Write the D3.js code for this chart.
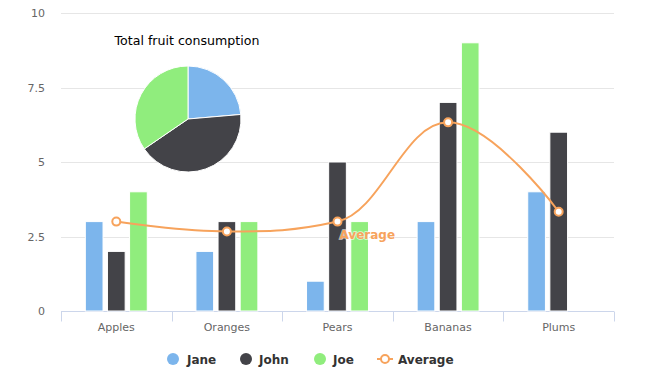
<!doctype html>
<html>
<head>
<meta charset="utf-8">
<script src="https://cdn.jsdelivr.net/npm/d3@7"></script>
<style>
  body { margin: 0; background: #fff; }
  text { font-family: "DejaVu Sans", sans-serif; }
</style>
</head>
<body>
<div id="chart"></div>
<script>
var categories = ["Apples", "Oranges", "Pears", "Bananas", "Plums"];
var seriesNames = ["Jane", "John", "Joe"];
var jane = [3, 2, 1, 3, 4];
var john = [2, 3, 5, 7, 6];
var joe = [4, 3, 3, 9, 0];
var average = [3, 2.67, 3, 6.33, 3.33];
var pieTotals = [13, 23, 19];
var yTicks = [0, 2.5, 5, 7.5, 10];
var colors = ["#7cb5ec", "#434348", "#90ed7d"];
var avgColor = "#f7a35c";

var w = 661, h = 380;
var plotLeft = 61, plotRight = 614, plotTop = 13, plotBottom = 311;

var svg = d3.select("#chart").append("svg")
    .attr("width", w)
    .attr("height", h);

var x0 = d3.scaleBand().domain(categories).range([plotLeft, plotRight]).padding(0);
var bw = x0.bandwidth();
var x1 = d3.scaleBand().domain(seriesNames).range([bw * 0.2, bw * 0.8]).padding(0);
var y = d3.scaleLinear().domain([0, 10]).range([plotBottom, plotTop]);

// grid lines
svg.append("g").selectAll("line")
    .data(yTicks.filter(function (d) { return d > 0; }))
    .enter().append("line")
    .attr("x1", plotLeft).attr("x2", plotRight)
    .attr("y1", function (d) { return Math.round(y(d)) + 0.5; })
    .attr("y2", function (d) { return Math.round(y(d)) + 0.5; })
    .attr("stroke", "#e6e6e6");

// y labels
svg.append("g").selectAll("text")
    .data(yTicks)
    .enter().append("text")
    .attr("x", 45)
    .attr("y", function (d) { return y(d) + 4; })
    .attr("text-anchor", "end")
    .style("font-size", "11px")
    .attr("fill", "#666")
    .text(function (d) { return d; });

// x axis
var xAxis = svg.append("g").attr("transform", "translate(0," + (plotBottom + 0.5) + ")");
xAxis.append("line").attr("x1", plotLeft).attr("x2", plotRight).attr("stroke", "#ccd6eb");
var boundaries = categories.map(function (c) { return x0(c); }).concat([plotRight]);
xAxis.selectAll("line.tick").data(boundaries).enter().append("line")
    .attr("class", "tick")
    .attr("x1", function (d) { return Math.round(d) + 0.5; })
    .attr("x2", function (d) { return Math.round(d) + 0.5; })
    .attr("y1", 0).attr("y2", 10)
    .attr("stroke", "#ccd6eb");
xAxis.selectAll("text").data(categories).enter().append("text")
    .attr("x", function (d) { return x0(d) + bw / 2; })
    .attr("y", 19)
    .attr("text-anchor", "middle")
    .style("font-size", "11px")
    .attr("fill", "#666")
    .text(function (d) { return d; });

// columns
var seriesData = [jane, john, joe];
seriesData.forEach(function (vals, si) {
    var pw = x1.bandwidth();
    svg.append("g").selectAll("rect")
        .data(vals)
        .enter().append("rect")
        .attr("x", function (d, i) { return x0(categories[i]) + x1(seriesNames[si]) + pw * 0.1; })
        .attr("y", function (d) { return y(d); })
        .attr("width", pw * 0.8)
        .attr("height", function (d) { return y(0) - y(d); })
        .attr("fill", colors[si])
        .attr("stroke", function (d) { return d > 0 ? "#fff" : "none"; })
        .attr("stroke-width", 1);
});

// spline (highcharts-style smoothing)
var pts = average.map(function (d, i) { return [x0(categories[i]) + bw / 2, y(d)]; });
function splinePath(p) {
    var s = 1.5, den = 2.5, path = "M" + p[0][0] + "," + p[0][1];
    var rc = [];
    for (var i = 0; i < p.length; i++) {
        var lc = null;
        if (i > 0 && i < p.length - 1) {
            var px = p[i][0], py = p[i][1];
            var lx = p[i - 1][0], ly = p[i - 1][1], nx = p[i + 1][0], ny = p[i + 1][1];
            var lcx = (s * px + lx) / den, lcy = (s * py + ly) / den;
            var rcx = (s * px + nx) / den, rcy = (s * py + ny) / den;
            var corr = ((rcy - lcy) * (rcx - px)) / (rcx - lcx) + py - rcy;
            lcy += corr; rcy += corr;
            if (lcy > ly && lcy > py) { lcy = Math.max(ly, py); rcy = 2 * py - lcy; }
            else if (lcy < ly && lcy < py) { lcy = Math.min(ly, py); rcy = 2 * py - lcy; }
            if (rcy > ny && rcy > py) { rcy = Math.max(ny, py); lcy = 2 * py - rcy; }
            else if (rcy < ny && rcy < py) { rcy = Math.min(ny, py); lcy = 2 * py - rcy; }
            lc = [lcx, lcy];
            rc[i] = [rcx, rcy];
        }
        if (i > 0) {
            var a = rc[i - 1] || p[i - 1];
            var b = lc || p[i];
            path += "C" + a[0] + "," + a[1] + " " + b[0] + "," + b[1] + " " + p[i][0] + "," + p[i][1];
        }
    }
    return path;
}
svg.append("path")
    .attr("d", splinePath(pts))
    .attr("fill", "none")
    .attr("stroke", avgColor)
    .attr("stroke-width", 2);
svg.append("g").selectAll("circle")
    .data(pts)
    .enter().append("circle")
    .attr("cx", function (d) { return d[0]; })
    .attr("cy", function (d) { return d[1]; })
    .attr("r", 4)
    .attr("fill", "#fff")
    .attr("stroke", avgColor)
    .attr("stroke-width", 2);

// series label
svg.append("text")
    .attr("x", pts[2][0] + 2)
    .attr("y", pts[2][1] + 17)
    .style("font-size", "12px")
    .style("font-weight", "bold")
    .attr("fill", avgColor)
    .attr("stroke", "#fff")
    .attr("stroke-width", 1.5)
    .attr("stroke-opacity", 0.7)
    .attr("paint-order", "stroke")
    .text("Average");

// pie
var pie = d3.pie().sort(null)(pieTotals);
var arc = d3.arc().innerRadius(0).outerRadius(53);
var pg = svg.append("g").attr("transform", "translate(188,119)");
pg.selectAll("path").data(pie).enter().append("path")
    .attr("d", arc)
    .attr("fill", function (d, i) { return colors[i]; })
    .attr("stroke", "#fff")
    .attr("stroke-width", 1);
svg.append("text")
    .attr("x", 187)
    .attr("y", 45)
    .attr("text-anchor", "middle")
    .style("font-size", "12.6px")
    .attr("fill", "#000")
    .text("Total fruit consumption");

// legend
var legendItems = [
    { name: "Jane", cx: 173, tx: 187, color: colors[0] },
    { name: "John", cx: 246, tx: 259, color: colors[1] },
    { name: "Joe", cx: 320, tx: 333, color: colors[2] }
];
var lg = svg.append("g");
legendItems.forEach(function (d) {
    lg.append("circle").attr("cx", d.cx).attr("cy", 359).attr("r", 6).attr("fill", d.color);
    lg.append("text").attr("x", d.tx).attr("y", 363.5)
        .style("font-size", "12px").style("font-weight", "bold").attr("fill", "#333").text(d.name);
});
lg.append("line").attr("x1", 377).attr("x2", 393).attr("y1", 359).attr("y2", 359)
    .attr("stroke", avgColor).attr("stroke-width", 2);
lg.append("circle").attr("cx", 385).attr("cy", 359).attr("r", 4)
    .attr("fill", "#fff").attr("stroke", avgColor).attr("stroke-width", 2);
lg.append("text").attr("x", 398).attr("y", 363.5)
    .style("font-size", "12px").style("font-weight", "bold").attr("fill", "#333").text("Average");
</script>
</body>
</html>
